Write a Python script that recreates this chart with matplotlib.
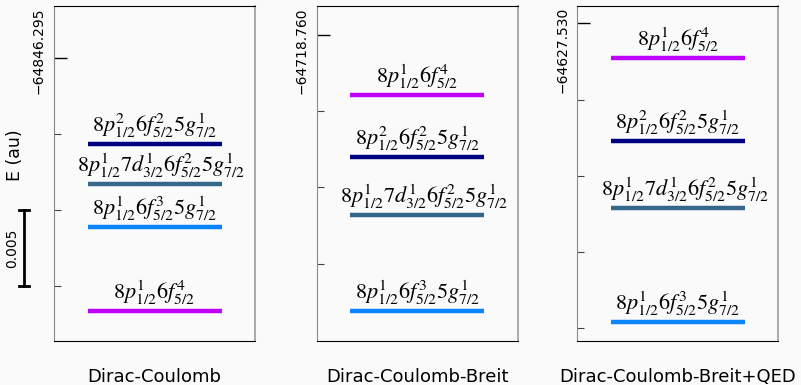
import matplotlib
matplotlib.use("Agg")
import matplotlib.pyplot as plt
from matplotlib.transforms import blended_transform_factory

plt.rcParams["mathtext.fontset"] = "stix"

# ---- data (energies in au) ----
methods = ["Dirac-Coulomb", "Dirac-Coulomb-Breit", "Dirac-Coulomb-Breit+QED"]
ref_energy = [-64846.295, -64718.760, -64627.530]   # labelled tick per panel
ref_labels = ["\u221264846.295", "\u221264718.760", "\u221264627.530"]

configs = [
    r"$8p^1_{1/2}6f^4_{5/2}$",
    r"$8p^2_{1/2}6f^2_{5/2}5g^1_{7/2}$",
    r"$8p^1_{1/2}7d^1_{3/2}6f^2_{5/2}5g^1_{7/2}$",
    r"$8p^1_{1/2}6f^3_{5/2}5g^1_{7/2}$",
]
colors = ["#bf00ff", "#000080", "#336688", "#0a84ff"]
label_dx = [0, 0, 5, 0]   # points, the long label sits a bit to the right

E_dc = [-64846.3116, -64846.30068, -64846.30331, -64846.30611]
E_dcb = [-64718.76392, -64718.76801, -64718.77181, -64718.77811]
E_dcbq = [-64627.5323, -64627.5377, -64627.5421, -64627.5496]
energies = [E_dc, E_dcb, E_dcbq]

ylims = [(-64846.31359, -64846.29161),
         (-64718.78008, -64718.75810),
         (-64627.55085, -64627.52886)]
tick_step = 0.005

bg = "#fafafa"
fig = plt.figure(figsize=(8.01, 3.85), dpi=100, facecolor=bg)
lefts = [54 / 801, 316.7 / 801, 577.3 / 801]
axes = []
for i, left in enumerate(lefts):
    ax = fig.add_axes([left, 44 / 385, 201 / 801, 335 / 385], facecolor=bg)
    axes.append(ax)
    for e, c, lab, dx in zip(energies[i], colors, configs, label_dx):
        ax.plot([0.5, 2.5], [e, e], color=c, lw=3.2, solid_capstyle="butt")
        ax.annotate(lab, (1.5, e), xytext=(dx, 3), textcoords="offset points",
                    ha="center", va="bottom", fontsize=16)
    ax.set_xlim(0, 3)
    ax.set_ylim(*ylims[i])
    ax.set_xticks([])
    ref = ref_energy[i]
    ax.set_yticks([ref])
    ax.set_yticklabels([])
    minors = []
    k = 1
    while ref - k * tick_step > ylims[i][0] + 0.0005:
        minors.append(ref - k * tick_step)
        k += 1
    ax.set_yticks(minors, minor=True)
    ax.tick_params(axis="y", which="major", direction="in", length=9.5, width=1)
    ax.tick_params(axis="y", which="minor", direction="in", length=5, width=0.8,
                   color="#444444")
    ax.tick_params(axis="y", right=False)
    ax.text(-0.075, 0.997, ref_labels[i], transform=ax.transAxes, rotation=90,
            ha="center", va="top", fontsize=10)
    ax.spines["top"].set_color("black")
    ax.spines["bottom"].set_color("black")
    ax.spines["left"].set_color("#888888")
    ax.spines["right"].set_color("#aaaaaa")
    ax.spines["right"].set_linewidth(1.4)
    fig.text(left + 100.5 / 801, 3 / 385, methods[i], ha="center",
             va="baseline", fontsize=13)

# scale bar on the first panel
ax = axes[0]
tr = blended_transform_factory(ax.transAxes, ax.transData)
y0 = ref_energy[0] - 2 * tick_step
y1 = ref_energy[0] - 3 * tick_step
ax.plot([-0.148, -0.148], [y0, y1], color="black", lw=2, transform=tr, clip_on=False)
for y in (y0, y1):
    ax.plot([-0.173, -0.123], [y, y], color="black", lw=2, transform=tr, clip_on=False)
ax.text(-0.21, (y0 + y1) / 2, "0.005", transform=tr, rotation=90,
        ha="center", va="center", fontsize=10)

fig.text(15 / 801, 1 - 155 / 385, "E (au)", rotation=90, ha="center",
         va="center", fontsize=12.5)

fig.savefig("out.png", dpi=100, facecolor=bg)
